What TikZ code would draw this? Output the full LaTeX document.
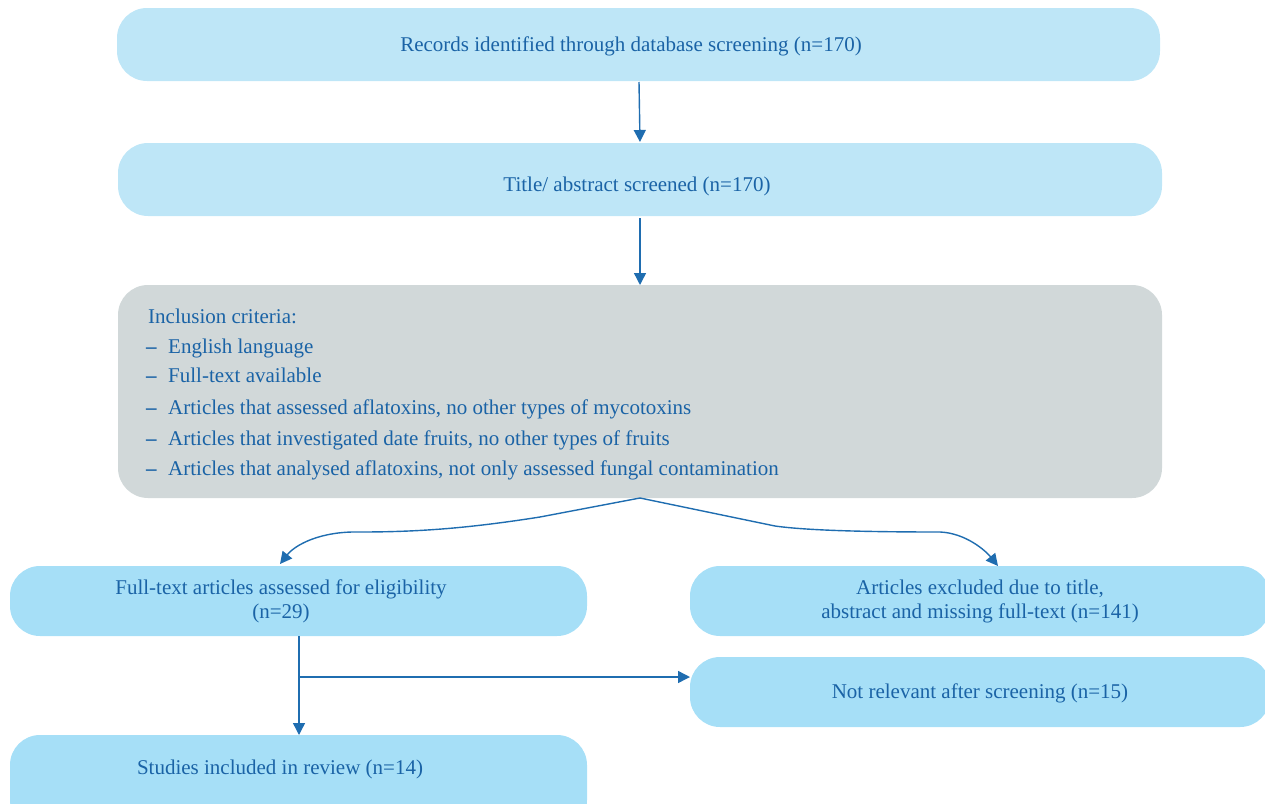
\documentclass[tikz,border=0pt]{standalone}
\usepackage{fontspec}
\setmainfont{Liberation Serif}
\usetikzlibrary{arrows.meta}
\definecolor{boxa}{HTML}{BEE6F7}
\definecolor{boxb}{HTML}{A6DFF7}
\definecolor{boxg}{HTML}{D1D8D9}
\definecolor{txt}{HTML}{1A63A6}
\definecolor{arr}{HTML}{1F6DB0}
\tikzset{
  box/.style={rounded corners=30pt, inner sep=0pt, text=txt, align=center, font=\fontsize{21}{24}\selectfont},
  conn/.style={draw=arr, line width=1.4pt, -{Triangle[length=12pt,width=12pt]}},
}
\begin{document}
\begin{tikzpicture}[x=1pt,y=-1pt]
\useasboundingbox (0,0) rectangle (1265,803);
% boxes
\fill[boxa, rounded corners=30pt] (117,8) rectangle (1160,81);
\node[box] (rec) at (631,46.5) {Records identified through database screening (n=170)};
\fill[boxa, rounded corners=30pt] (118,143) rectangle (1162,216);
\node[box] (tit) at (637,186) {Title/ abstract screened (n=170)};
\fill[boxg, rounded corners=30pt] (118,285) rectangle (1162,498);
\coordinate (incT) at (640,285);
\coordinate (incB) at (640,498);
\node[box, anchor=base west] (h0) at (148,323) {Inclusion criteria:};
\foreach \y/\t [count=\i] in {353/{English language}, 382/{Full-text available}, 414/{Articles that assessed aflatoxins, no other types of mycotoxins}, 445/{Articles that investigated date fruits, no other types of fruits}, 475/{Articles that analysed aflatoxins, not only assessed fungal contamination}}{
  \node[box, anchor=base west] (d\i) at (146,\y) {\textbf{–}};
  \node[box, anchor=base west] (l\i) at (168,\y) {\t};
}
\fill[boxb, rounded corners=30pt] (10,566) rectangle (587,636);
\node[box] (full) at (281,601) {Full-text articles assessed for eligibility\\(n=29)};
\coordinate (fullB) at (299,636);
\fill[boxb, rounded corners=30pt] (690,566) rectangle (1270,636);
\node[box] (exc) at (980,601) {Articles excluded due to title,\\abstract and missing full-text (n=141)};
\coordinate (excT) at (998,566);
\fill[boxb, rounded corners=30pt] (690,657) rectangle (1270,727);
\node[box] (notr) at (980,693) {Not relevant after screening (n=15)};
\coordinate (notrL) at (690,677);
\fill[boxb, rounded corners=30pt] (10,735) rectangle (587,830);
\node[box] (stud) at (280,769) {Studies included in review (n=14)};
\coordinate (studT) at (299,735);
\coordinate (fullT) at (280,564);
% arrows
\draw[conn] (639,82) -- (640,142);
\draw[conn] (640,218) -- (incT);
\draw[conn] (incB) -- (540,517) .. controls (470,528) and (420,532) .. (360,532) .. controls (320,531) and (295,545) .. (fullT);
\draw[conn] (incB) -- (775,526) .. controls (810,531) and (880,532) .. (940,532) .. controls (965,533) and (985,550) .. (excT);
\draw[conn] (fullB) -- (studT);
\coordinate (br) at (299,677);
\draw[conn] (br) -- (notrL);
\end{tikzpicture}
\end{document}
